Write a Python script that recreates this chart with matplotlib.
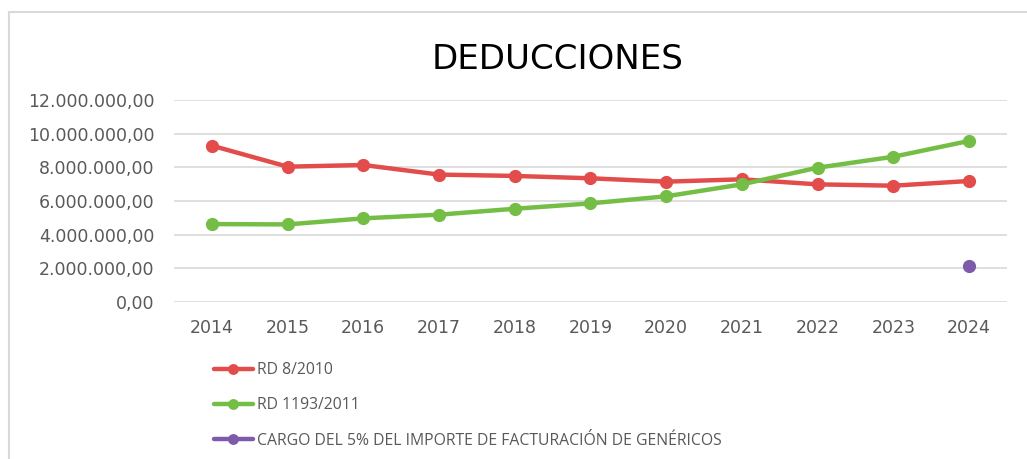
import matplotlib
matplotlib.use("Agg")
import matplotlib.pyplot as plt
from matplotlib.lines import Line2D
from matplotlib.ticker import FuncFormatter

years = ["2014", "2015", "2016", "2017", "2018", "2019", "2020", "2021", "2022", "2023", "2024"]
rd_8_2010 = [9.29e6, 8.04e6, 8.14e6, 7.57e6, 7.49e6, 7.35e6, 7.15e6, 7.29e6, 6.99e6, 6.91e6, 7.19e6]
rd_1193_2011 = [4.63e6, 4.61e6, 4.97e6, 5.19e6, 5.54e6, 5.86e6, 6.28e6, 6.99e6, 7.98e6, 8.63e6, 9.57e6]
cargo_years = ["2024"]
cargo_genericos = [2.14e6]

labels = [
    "RD 8/2010",
    "RD 1193/2011",
    "CARGO DEL 5% DEL IMPORTE DE FACTURACIÓN DE GENÉRICOS",
]
colors = ["#E24C4B", "#74BE45", "#7E5BAA"]
grey = "#595959"

plt.rcParams["font.family"] = ["DejaVu Sans"]

fig = plt.figure(figsize=(10.27, 4.59), dpi=100)
ax = fig.add_axes([0.1694, 0.342, 0.8111, 0.4401])

x = list(range(len(years)))
line_kw = dict(linewidth=3.2, marker="o", markersize=8.5, solid_capstyle="round")
ax.plot(x, rd_8_2010, color=colors[0], label=labels[0], **line_kw)
ax.plot(x, rd_1193_2011, color=colors[1], label=labels[1], **line_kw)
cx = [years.index(y) for y in cargo_years]
ax.plot(cx, cargo_genericos, color=colors[2], label=labels[2], **line_kw)

ax.set_xlim(-0.5, len(years) - 0.5)
ax.set_ylim(0, 12e6)
ax.set_yticks([i * 2e6 for i in range(7)])
ax.yaxis.set_major_formatter(
    FuncFormatter(lambda v, p: f"{v:,.2f}".replace(",", "X").replace(".", ",").replace("X", "."))
)
ax.set_xticks(x)
ax.set_xticklabels(years)
ax.grid(axis="y", color="#D9D9D9", linewidth=1.2)
ax.set_axisbelow(True)
for s in ax.spines.values():
    s.set_visible(False)
ax.tick_params(length=0, labelsize=12.5, labelcolor=grey)
ax.tick_params(axis="y", pad=14)
ax.tick_params(axis="x", pad=12)

fig.text(0.5425, 1 - 69 / 459, "DEDUCCIONES", fontsize=24.5, color="black",
         ha="center", va="baseline")

fig.legend(loc="upper left", bbox_to_anchor=(214 / 1027, 1 - 362 / 459),
           frameon=False, prop={"family": ["Open Sans", "DejaVu Sans"], "size": 11.3},
           labelcolor=grey, markerscale=0.8,
           handlelength=2.48, handletextpad=0.25, labelspacing=1.23,
           borderaxespad=0, borderpad=0)

# chart frame (top and left edges visible)
fig.add_artist(Line2D([9 / 1027, 1], [1 - 12 / 459, 1 - 12 / 459], color="#D9D9D9", linewidth=1.5))
fig.add_artist(Line2D([9 / 1027, 9 / 1027], [0, 1 - 12 / 459], color="#D9D9D9", linewidth=1.5))

fig.savefig("out.png", dpi=100)
